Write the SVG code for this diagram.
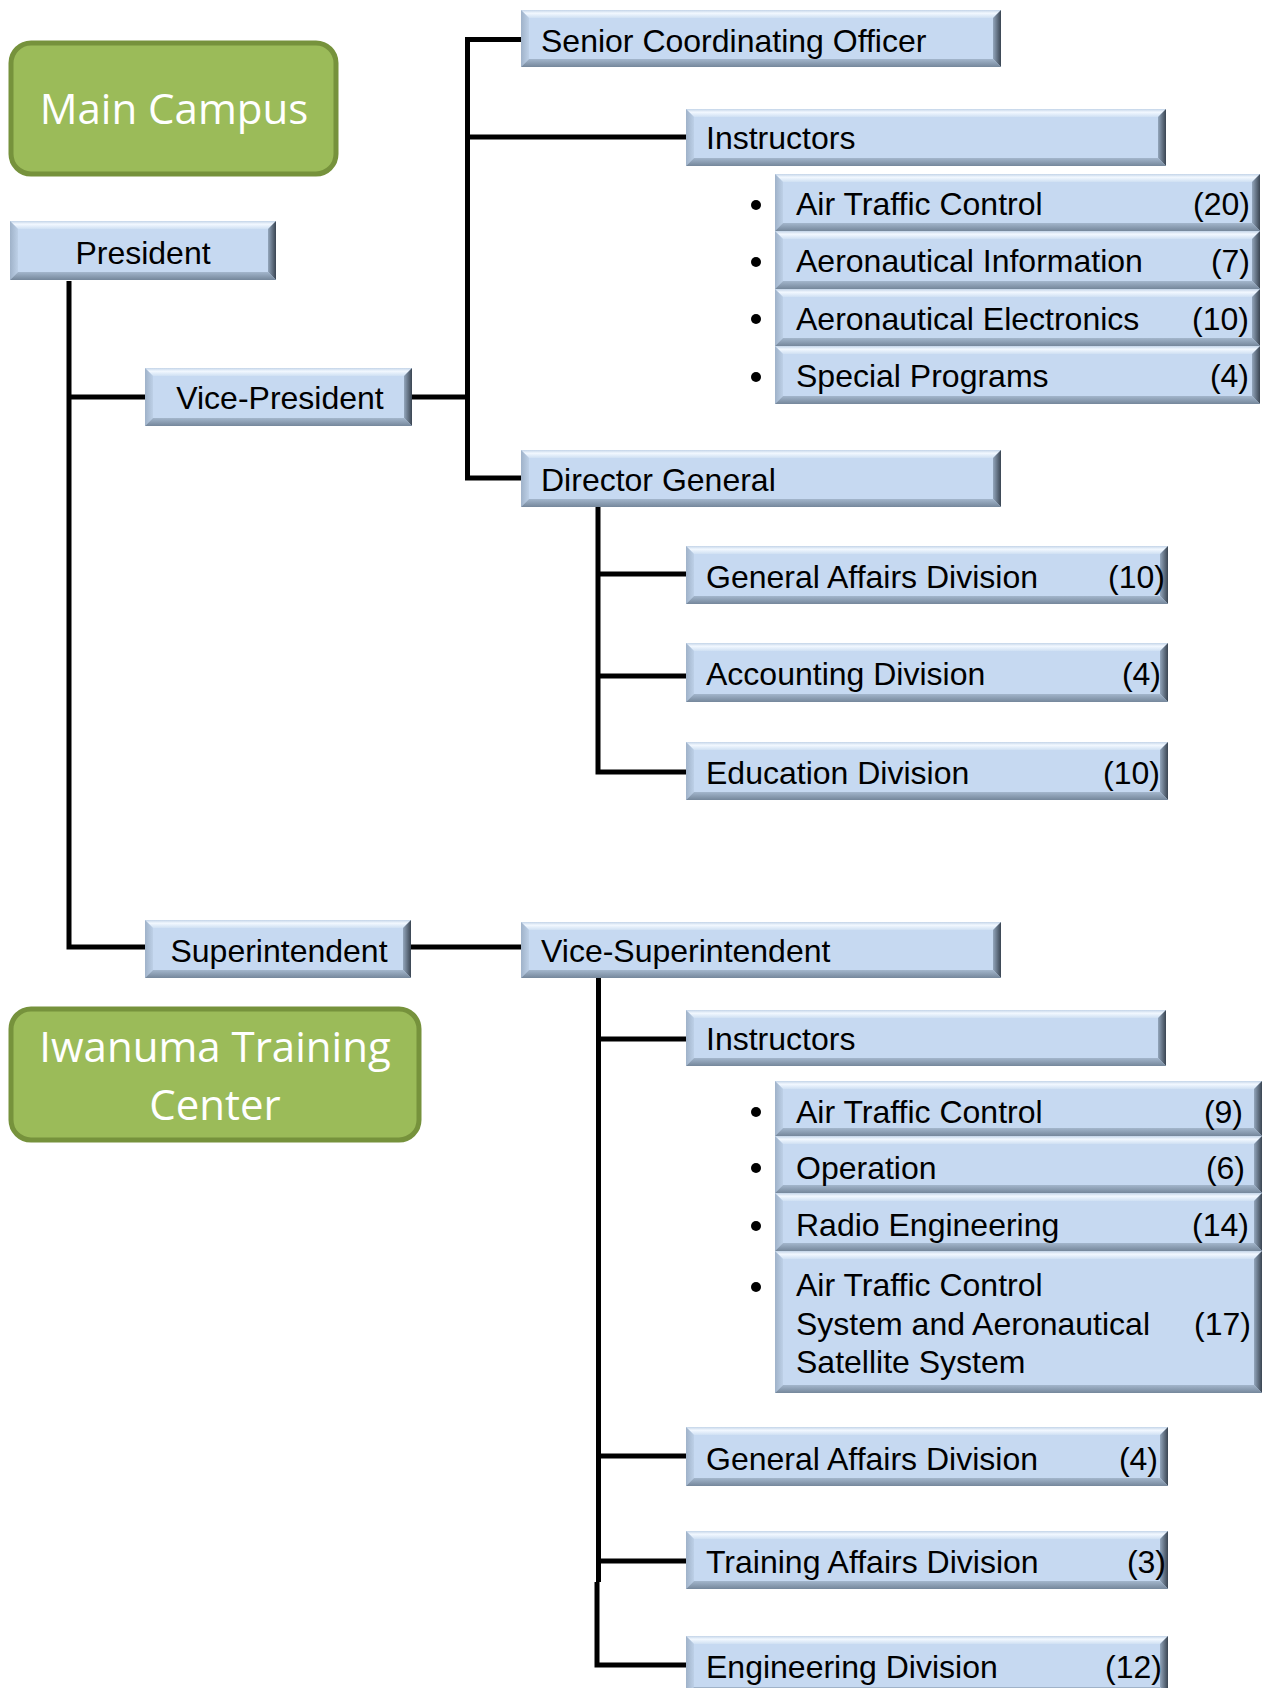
<svg xmlns="http://www.w3.org/2000/svg" width="1264" height="1688" viewBox="0 0 1264 1688">
<defs>
<linearGradient id="gTop" x1="0" y1="0" x2="0" y2="1"><stop offset="0" stop-color="#c3d4e8"/><stop offset="0.4" stop-color="#f2f8ff"/><stop offset="1" stop-color="#cfe0f3"/></linearGradient>
<linearGradient id="gLeft" x1="0" y1="0" x2="1" y2="0"><stop offset="0" stop-color="#9fb2c9"/><stop offset="1" stop-color="#bdd0e7"/></linearGradient>
<linearGradient id="gRight" x1="0" y1="0" x2="1" y2="0"><stop offset="0" stop-color="#93a6bc"/><stop offset="1" stop-color="#3a4552"/></linearGradient>
<linearGradient id="gBottom" x1="0" y1="0" x2="0" y2="1"><stop offset="0" stop-color="#a3b6cc"/><stop offset="1" stop-color="#75879b"/></linearGradient>
<style>
.face{fill:#c6d9f1}
.bt{fill:url(#gTop)}
.bl{fill:url(#gLeft)}
.br{fill:url(#gRight)}
.bb{fill:url(#gBottom)}
.t{font-family:"Liberation Sans",Arial,sans-serif;font-size:32px;fill:#000}
.n{font-family:"Liberation Sans",Arial,sans-serif;font-size:32px;fill:#000;text-anchor:end}
.c{text-anchor:middle}
.campus{fill:#9bbb59;stroke:#76923c;stroke-width:5}
.ct{font-family:"Open Sans",Lato,sans-serif;font-size:42px;fill:#fff;text-anchor:middle}
.conn{fill:none;stroke:#000;stroke-width:5;stroke-linejoin:miter;stroke-linecap:butt}
.dot{fill:#000}
</style>
</defs>
<rect width="1264" height="1688" fill="#fff"/>

<g id="connectors">
<path class="conn" d="M69,281 V947 H145"/>
<path class="conn" d="M69,397 H145"/>
<path class="conn" d="M412,397 H467.5"/>
<path class="conn" d="M521,39.5 H467.5 V478 H521"/>
<path class="conn" d="M467.5,137 H686"/>
<path class="conn" d="M598,507 V772 H686"/>
<path class="conn" d="M598,574 H686"/>
<path class="conn" d="M598,676 H686"/>
<path class="conn" d="M411,947 H521"/>
<path class="conn" d="M598.5,978 V1582"/>
<path class="conn" d="M597,1582 V1665 H686"/>
<path class="conn" d="M598,1039 H686"/>
<path class="conn" d="M598,1456 H686"/>
<path class="conn" d="M598,1561 H686"/>
</g>

<g id="main-campus">
<rect class="campus" x="11" y="43" width="325" height="131" rx="20"/>
<text class="ct" x="174" y="124">Main Campus</text>
</g>

<g id="iwanuma">
<rect class="campus" x="11" y="1009" width="408" height="131" rx="20"/>
<text class="ct" x="215" y="1062">Iwanuma Training</text>
<text class="ct" x="215" y="1120">Center</text>
</g>

<g id="president">
<rect class="face" x="10" y="221" width="266" height="59"/>
<polygon class="bt" points="10,221 276,221 268,229 18,229"/>
<polygon class="bl" points="10,221 18,229 18,272 10,280"/>
<polygon class="br" points="276,221 276,280 268,272 268,229"/>
<polygon class="bb" points="10,280 18,272 268,272 276,280"/>
<text class="t c" x="143" y="264">President</text>
</g>

<g id="vice-president">
<rect class="face" x="145" y="368" width="267" height="58"/>
<polygon class="bt" points="145,368 412,368 404,376 153,376"/>
<polygon class="bl" points="145,368 153,376 153,418 145,426"/>
<polygon class="br" points="412,368 412,426 404,418 404,376"/>
<polygon class="bb" points="145,426 153,418 404,418 412,426"/>
<text class="t c" x="280" y="409">Vice-President</text>
</g>

<g id="superintendent">
<rect class="face" x="145" y="920" width="266" height="58"/>
<polygon class="bt" points="145,920 411,920 403,928 153,928"/>
<polygon class="bl" points="145,920 153,928 153,970 145,978"/>
<polygon class="br" points="411,920 411,978 403,970 403,928"/>
<polygon class="bb" points="145,978 153,970 403,970 411,978"/>
<text class="t c" x="279" y="962">Superintendent</text>
</g>

<g id="senior-coordinating-officer">
<rect class="face" x="521" y="10" width="480" height="57"/>
<polygon class="bt" points="521,10 1001,10 993,18 529,18"/>
<polygon class="bl" points="521,10 529,18 529,59 521,67"/>
<polygon class="br" points="1001,10 1001,67 993,59 993,18"/>
<polygon class="bb" points="521,67 529,59 993,59 1001,67"/>
<text class="t" x="541" y="52">Senior Coordinating Officer</text>
</g>

<g id="instructors-main">
<rect class="face" x="686" y="109" width="480" height="57"/>
<polygon class="bt" points="686,109 1166,109 1158,117 694,117"/>
<polygon class="bl" points="686,109 694,117 694,158 686,166"/>
<polygon class="br" points="1166,109 1166,166 1158,158 1158,117"/>
<polygon class="bb" points="686,166 694,158 1158,158 1166,166"/>
<text class="t" x="706" y="149">Instructors</text>
</g>

<g id="main-atc">
<rect class="face" x="775" y="174" width="485" height="57"/>
<polygon class="bt" points="775,174 1260,174 1252,182 783,182"/>
<polygon class="bl" points="775,174 783,182 783,223 775,231"/>
<polygon class="br" points="1260,174 1260,231 1252,223 1252,182"/>
<polygon class="bb" points="775,231 783,223 1252,223 1260,231"/>
<circle class="dot" cx="756" cy="205" r="5"/>
<text class="t" x="796" y="215">Air Traffic Control</text>
<text class="n" x="1250" y="215">(20)</text>
</g>

<g id="main-ai">
<rect class="face" x="775" y="231" width="485" height="58"/>
<polygon class="bt" points="775,231 1260,231 1252,239 783,239"/>
<polygon class="bl" points="775,231 783,239 783,281 775,289"/>
<polygon class="br" points="1260,231 1260,289 1252,281 1252,239"/>
<polygon class="bb" points="775,289 783,281 1252,281 1260,289"/>
<circle class="dot" cx="756" cy="262" r="5"/>
<text class="t" x="796" y="272">Aeronautical Information</text>
<text class="n" x="1250" y="272">(7)</text>
</g>

<g id="main-ae">
<rect class="face" x="775" y="289" width="485" height="57"/>
<polygon class="bt" points="775,289 1260,289 1252,297 783,297"/>
<polygon class="bl" points="775,289 783,297 783,338 775,346"/>
<polygon class="br" points="1260,289 1260,346 1252,338 1252,297"/>
<polygon class="bb" points="775,346 783,338 1252,338 1260,346"/>
<circle class="dot" cx="756" cy="319" r="5"/>
<text class="t" x="796" y="330">Aeronautical Electronics</text>
<text class="n" x="1249" y="330">(10)</text>
</g>

<g id="main-sp">
<rect class="face" x="775" y="346" width="485" height="58"/>
<polygon class="bt" points="775,346 1260,346 1252,354 783,354"/>
<polygon class="bl" points="775,346 783,354 783,396 775,404"/>
<polygon class="br" points="1260,346 1260,404 1252,396 1252,354"/>
<polygon class="bb" points="775,404 783,396 1252,396 1260,404"/>
<circle class="dot" cx="756" cy="377" r="5"/>
<text class="t" x="796" y="387">Special Programs</text>
<text class="n" x="1249" y="387">(4)</text>
</g>

<g id="director-general">
<rect class="face" x="521" y="450" width="480" height="57"/>
<polygon class="bt" points="521,450 1001,450 993,458 529,458"/>
<polygon class="bl" points="521,450 529,458 529,499 521,507"/>
<polygon class="br" points="1001,450 1001,507 993,499 993,458"/>
<polygon class="bb" points="521,507 529,499 993,499 1001,507"/>
<text class="t" x="541" y="491">Director General</text>
</g>

<g id="main-general-affairs">
<rect class="face" x="686" y="546" width="482" height="58"/>
<polygon class="bt" points="686,546 1168,546 1160,554 694,554"/>
<polygon class="bl" points="686,546 694,554 694,596 686,604"/>
<polygon class="br" points="1168,546 1168,604 1160,596 1160,554"/>
<polygon class="bb" points="686,604 694,596 1160,596 1168,604"/>
<text class="t" x="706" y="588">General Affairs Division</text>
<text class="n" x="1165" y="588">(10)</text>
</g>

<g id="main-accounting">
<rect class="face" x="686" y="643" width="482" height="59"/>
<polygon class="bt" points="686,643 1168,643 1160,651 694,651"/>
<polygon class="bl" points="686,643 694,651 694,694 686,702"/>
<polygon class="br" points="1168,643 1168,702 1160,694 1160,651"/>
<polygon class="bb" points="686,702 694,694 1160,694 1168,702"/>
<text class="t" x="706" y="685">Accounting Division</text>
<text class="n" x="1161" y="685">(4)</text>
</g>

<g id="main-education">
<rect class="face" x="686" y="742" width="482" height="58"/>
<polygon class="bt" points="686,742 1168,742 1160,750 694,750"/>
<polygon class="bl" points="686,742 694,750 694,792 686,800"/>
<polygon class="br" points="1168,742 1168,800 1160,792 1160,750"/>
<polygon class="bb" points="686,800 694,792 1160,792 1168,800"/>
<text class="t" x="706" y="784">Education Division</text>
<text class="n" x="1160" y="784">(10)</text>
</g>

<g id="vice-superintendent">
<rect class="face" x="521" y="922" width="480" height="56"/>
<polygon class="bt" points="521,922 1001,922 993,930 529,930"/>
<polygon class="bl" points="521,922 529,930 529,970 521,978"/>
<polygon class="br" points="1001,922 1001,978 993,970 993,930"/>
<polygon class="bb" points="521,978 529,970 993,970 1001,978"/>
<text class="t" x="541" y="962">Vice-Superintendent</text>
</g>

<g id="instructors-iwanuma">
<rect class="face" x="686" y="1010" width="480" height="56"/>
<polygon class="bt" points="686,1010 1166,1010 1158,1018 694,1018"/>
<polygon class="bl" points="686,1010 694,1018 694,1058 686,1066"/>
<polygon class="br" points="1166,1010 1166,1066 1158,1058 1158,1018"/>
<polygon class="bb" points="686,1066 694,1058 1158,1058 1166,1066"/>
<text class="t" x="706" y="1050">Instructors</text>
</g>

<g id="iw-atc">
<rect class="face" x="775" y="1081" width="487" height="55"/>
<polygon class="bt" points="775,1081 1262,1081 1254,1089 783,1089"/>
<polygon class="bl" points="775,1081 783,1089 783,1128 775,1136"/>
<polygon class="br" points="1262,1081 1262,1136 1254,1128 1254,1089"/>
<polygon class="bb" points="775,1136 783,1128 1254,1128 1262,1136"/>
<circle class="dot" cx="756" cy="1112" r="5"/>
<text class="t" x="796" y="1123">Air Traffic Control</text>
<text class="n" x="1243" y="1123">(9)</text>
</g>

<g id="iw-operation">
<rect class="face" x="775" y="1136" width="487" height="57"/>
<polygon class="bt" points="775,1136 1262,1136 1254,1144 783,1144"/>
<polygon class="bl" points="775,1136 783,1144 783,1185 775,1193"/>
<polygon class="br" points="1262,1136 1262,1193 1254,1185 1254,1144"/>
<polygon class="bb" points="775,1193 783,1185 1254,1185 1262,1193"/>
<circle class="dot" cx="756" cy="1168" r="5"/>
<text class="t" x="796" y="1179">Operation</text>
<text class="n" x="1245" y="1179">(6)</text>
</g>

<g id="iw-radio">
<rect class="face" x="775" y="1193" width="487" height="58"/>
<polygon class="bt" points="775,1193 1262,1193 1254,1201 783,1201"/>
<polygon class="bl" points="775,1193 783,1201 783,1243 775,1251"/>
<polygon class="br" points="1262,1193 1262,1251 1254,1243 1254,1201"/>
<polygon class="bb" points="775,1251 783,1243 1254,1243 1262,1251"/>
<circle class="dot" cx="756" cy="1226" r="5"/>
<text class="t" x="796" y="1236">Radio Engineering</text>
<text class="n" x="1249" y="1236">(14)</text>
</g>

<g id="iw-atcs">
<rect class="face" x="775" y="1251" width="487" height="142"/>
<polygon class="bt" points="775,1251 1262,1251 1254,1259 783,1259"/>
<polygon class="bl" points="775,1251 783,1259 783,1385 775,1393"/>
<polygon class="br" points="1262,1251 1262,1393 1254,1385 1254,1259"/>
<polygon class="bb" points="775,1393 783,1385 1254,1385 1262,1393"/>
<circle class="dot" cx="756" cy="1287" r="5"/>
<text class="t" x="796" y="1296">Air Traffic Control</text>
<text class="t" x="796" y="1335">System and Aeronautical</text>
<text class="t" x="796" y="1373">Satellite System</text>
<text class="n" x="1251" y="1335">(17)</text>
</g>

<g id="iw-general-affairs">
<rect class="face" x="686" y="1427" width="482" height="59"/>
<polygon class="bt" points="686,1427 1168,1427 1160,1435 694,1435"/>
<polygon class="bl" points="686,1427 694,1435 694,1478 686,1486"/>
<polygon class="br" points="1168,1427 1168,1486 1160,1478 1160,1435"/>
<polygon class="bb" points="686,1486 694,1478 1160,1478 1168,1486"/>
<text class="t" x="706" y="1470">General Affairs Division</text>
<text class="n" x="1158" y="1470">(4)</text>
</g>

<g id="iw-training-affairs">
<rect class="face" x="686" y="1531" width="482" height="58"/>
<polygon class="bt" points="686,1531 1168,1531 1160,1539 694,1539"/>
<polygon class="bl" points="686,1531 694,1539 694,1581 686,1589"/>
<polygon class="br" points="1168,1531 1168,1589 1160,1581 1160,1539"/>
<polygon class="bb" points="686,1589 694,1581 1160,1581 1168,1589"/>
<text class="t" x="706" y="1573">Training Affairs Division</text>
<text class="n" x="1166" y="1573">(3)</text>
</g>

<g id="iw-engineering">
<rect class="face" x="686" y="1636" width="482" height="59"/>
<polygon class="bt" points="686,1636 1168,1636 1160,1644 694,1644"/>
<polygon class="bl" points="686,1636 694,1644 694,1687 686,1695"/>
<polygon class="br" points="1168,1636 1168,1695 1160,1687 1160,1644"/>
<polygon class="bb" points="686,1695 694,1687 1160,1687 1168,1695"/>
<text class="t" x="706" y="1678">Engineering Division</text>
<text class="n" x="1162" y="1678">(12)</text>
</g>
</svg>
